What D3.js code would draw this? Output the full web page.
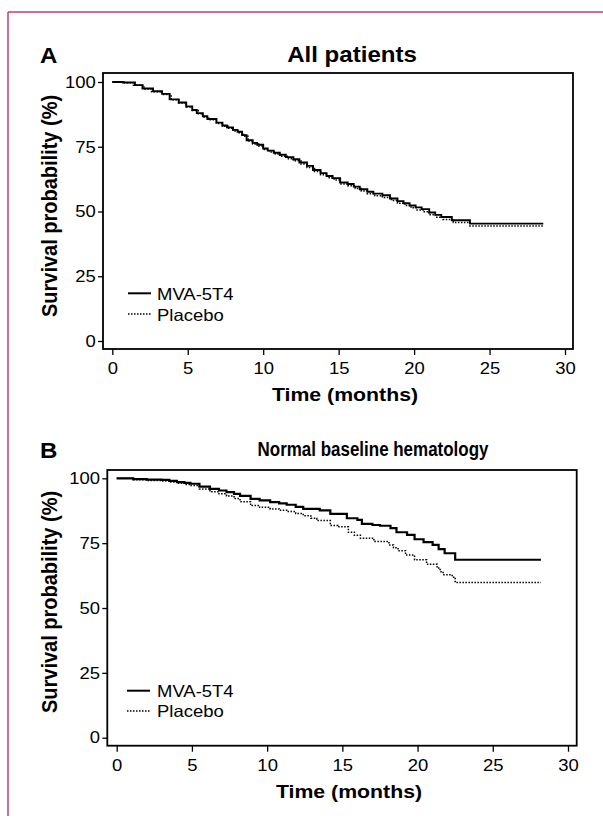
<!DOCTYPE html>
<html><head><meta charset="utf-8">
<script src="https://cdn.jsdelivr.net/npm/d3@7"></script>
<style>html,body{margin:0;padding:0;background:#fff;} svg{display:block;font-family:"Liberation Sans",Arial,Helvetica,sans-serif;}</style>
</head><body><svg id="chart" width="603" height="828"></svg>
<script>
// ---------- data ----------
const tickValuesX = [0, 5, 10, 15, 20, 25, 30];
const tickValuesY = [0, 25, 50, 75, 100];
const panelLetters = ["A", "B"];
const panelTitles = ["All patients", "Normal baseline hematology"];
const seriesNames = ["MVA-5T4", "Placebo"];
const xAxisTitle = "Time (months)";
const yAxisTitle = "Survival probability (%)";

// Panel A – all patients
const allMvaTime = [0, 0.7, 1.5, 2.0, 2.7, 3.3, 3.8, 4.4, 4.9, 5.3, 5.6, 6.0, 6.3, 6.9, 7.3, 7.6, 8.0, 8.3, 8.6, 8.9, 9.3, 9.6, 10.0, 10.3, 10.7, 11.1, 11.5, 12.0, 12.4, 12.9, 13.3, 13.8, 14.2, 14.6, 15.1, 15.6, 16.0, 16.4, 16.9, 17.3, 17.9, 18.4, 18.9, 19.3, 19.7, 20.1, 20.5, 21.0, 21.4, 21.8, 22.5, 23.7, 28.56];
const allMvaSurv = [100, 99.8, 98.8, 97.5, 96.4, 95.4, 93.3, 92.1, 90.6, 89.2, 88.0, 86.8, 85.7, 84.3, 83.2, 82.5, 81.5, 80.8, 79.5, 77.5, 76.5, 75.8, 74.3, 73.5, 72.7, 71.9, 71.0, 70.2, 68.9, 67.6, 66.0, 64.8, 63.7, 62.9, 61.2, 60.6, 59.6, 58.6, 57.6, 56.9, 56.3, 55.0, 54.0, 53.2, 52.3, 51.6, 50.9, 49.6, 48.7, 47.9, 46.6, 45.3, 45.3];
const allPlacTime = [0, 0.8, 1.4, 2.1, 2.6, 3.3, 3.9, 4.4, 4.9, 5.3, 5.7, 6.0, 6.4, 6.9, 7.3, 7.7, 8.0, 8.4, 8.7, 9.0, 9.3, 9.7, 10.0, 10.4, 10.8, 11.1, 11.6, 12.0, 12.5, 12.9, 13.4, 13.8, 14.3, 14.7, 15.1, 15.6, 16.1, 16.5, 16.9, 17.4, 17.9, 18.5, 18.9, 19.4, 19.8, 20.2, 20.6, 21.0, 21.5, 21.9, 22.6, 23.7, 28.56];
const allPlacSurv = [100, 99.7, 98.7, 97.3, 96.2, 95.2, 93.1, 91.9, 90.3, 89.0, 87.7, 86.5, 85.4, 84.0, 82.9, 82.1, 81.1, 80.4, 79.1, 77.2, 76.1, 75.3, 73.9, 73.0, 72.2, 71.3, 70.4, 69.6, 68.3, 67.0, 65.4, 64.2, 63.0, 62.2, 60.6, 59.9, 58.9, 57.9, 56.9, 56.1, 55.4, 54.2, 53.2, 52.3, 51.4, 50.6, 49.9, 48.7, 47.8, 46.9, 45.8, 44.4, 44.4];

// Panel B – normal baseline hematology
const normMvaTime = [0, 1.1, 2.0, 3.0, 3.5, 4.0, 4.5, 4.9, 5.5, 6.2, 6.8, 7.3, 7.8, 8.2, 8.9, 9.5, 10.2, 10.8, 11.3, 11.9, 12.4, 13.5, 14.2, 15.3, 16.0, 16.3, 17.0, 17.5, 18.2, 18.6, 19.3, 19.8, 20.4, 21.0, 21.4, 21.8, 22.5, 28.2];
const normMvaSurv = [100, 99.7, 99.5, 99.4, 99.0, 98.5, 98.2, 97.9, 96.8, 95.9, 95.3, 94.7, 94.0, 93.2, 92.1, 91.5, 90.8, 90.3, 89.8, 89.0, 88.2, 87.6, 86.3, 84.6, 84.0, 82.4, 82.0, 81.7, 80.8, 79.2, 78.2, 76.5, 75.4, 74.3, 72.7, 71.1, 68.6, 68.6];
const normPlacTime = [0, 1.1, 2.0, 3.0, 3.5, 4.0, 4.5, 4.9, 5.5, 6.2, 6.8, 7.3, 7.8, 8.2, 8.9, 9.5, 10.2, 10.8, 11.3, 11.9, 12.4, 12.9, 13.3, 14.2, 14.7, 15.4, 15.8, 16.2, 17.1, 18.1, 18.4, 18.7, 19.2, 19.8, 20.6, 21.3, 21.5, 21.7, 22.3, 22.5, 28.2];
const normPlacSurv = [100, 99.4, 99.2, 99.0, 98.6, 98.1, 97.6, 97.2, 95.9, 94.8, 94.0, 93.2, 92.2, 91.0, 89.5, 88.8, 88.2, 87.7, 87.2, 86.4, 85.6, 84.6, 83.7, 81.8, 81.3, 79.2, 78.0, 76.9, 75.6, 74.3, 73.2, 72.1, 70.4, 68.6, 66.9, 65.4, 64.0, 62.8, 61.9, 59.8, 59.8];

// ---------- drawing ----------
const SX = 1.12;           // horizontal stretch of the original typesetting
const svg = d3.select("#chart");
const border = "#c63c6e";

svg.append("line").attr("x1", 8).attr("y1", 12).attr("x2", 603).attr("y2", 12)
  .attr("stroke", border).attr("stroke-width", 1.5);
svg.append("line").attr("x1", 8).attr("y1", 12).attr("x2", 8).attr("y2", 816)
  .attr("stroke", border).attr("stroke-width", 1.5);

const panels = [
  { frame: [103, 573, 73, 349], xr: [112.3, 565], yr: [341, 82],
    letter: [40, 63], title: [352, 62], titleSize: 21.5, titleSX: 1.12, xt: [345, 401], yt: [57, 206],
    legX: [128, 151], legY: [293.3, 314], legText: [157, 299.5, 320.7],
    mva: [allMvaTime, allMvaSurv], plac: [allPlacTime, allPlacSurv], solidW: 1.9 },
  { frame: [107.3, 576.7, 470, 745.7], xr: [116.7, 568], yr: [737.7, 478.3],
    letter: [40, 458], title: [373, 456], titleSize: 19.5, titleSX: 0.87, xt: [349, 798], yt: [57, 602],
    legX: [127, 150], legY: [690.7, 711], legText: [157, 696.5, 717.3],
    mva: [normMvaTime, normMvaSurv], plac: [normPlacTime, normPlacSurv], solidW: 2.2 }
];

function stretchedText(parent, x, y, str, opts) {
  const sx = opts.sx || SX;
  return parent.append("text")
    .attr("transform", `translate(${x},${y}) scale(${sx},1)` + (opts.rotate ? " rotate(-90)" : ""))
    .attr("text-anchor", opts.anchor || "start")
    .attr("font-size", opts.size)
    .attr("font-weight", opts.bold ? "bold" : "normal")
    .attr("fill", "#000")
    .text(str);
}

panels.forEach((p, i) => {
  const g = svg.append("g");
  const x = d3.scaleLinear().domain([0, 30]).range(p.xr);
  const y = d3.scaleLinear().domain([0, 100]).range(p.yr);

  g.append("rect")
    .attr("x", p.frame[0]).attr("y", p.frame[2])
    .attr("width", p.frame[1] - p.frame[0]).attr("height", p.frame[3] - p.frame[2])
    .attr("fill", "none").attr("stroke", "#000").attr("stroke-width", 1.8);

  const ya = g.append("g").attr("transform", `translate(${p.frame[0]},0)`)
    .call(d3.axisLeft(y).tickValues(tickValuesY).tickSize(5).tickPadding(1.5).tickFormat(d3.format("d")));
  ya.select(".domain").remove();
  ya.selectAll("line").attr("stroke", "#000").attr("stroke-width", 1.3);
  ya.selectAll("text").attr("font-size", 16.5).attr("font-family", null).attr("fill", "#000")
    .attr("transform", `scale(${SX},1)`);

  const xa = g.append("g").attr("transform", `translate(0,${p.frame[3]})`)
    .call(d3.axisBottom(x).tickValues(tickValuesX).tickSize(6).tickPadding(7.3).tickFormat(d3.format("d")));
  xa.select(".domain").remove();
  xa.selectAll("line").attr("stroke", "#000").attr("stroke-width", 1.3);
  xa.selectAll("text").attr("font-size", 16.5).attr("font-family", null).attr("fill", "#000")
    .attr("transform", `scale(${SX},1)`);

  const line = d3.line().x(d => x(d[0])).y(d => y(d[1])).curve(d3.curveStepAfter);
  g.append("path").attr("d", line(d3.zip(p.plac[0], p.plac[1]))).attr("fill", "none")
    .attr("stroke", "#000").attr("stroke-width", 1.5).attr("stroke-dasharray", "1.5,1.5");
  g.append("path").attr("d", line(d3.zip(p.mva[0], p.mva[1]))).attr("fill", "none")
    .attr("stroke", "#000").attr("stroke-width", p.solidW);

  g.append("line").attr("x1", p.legX[0]).attr("x2", p.legX[1]).attr("y1", p.legY[0]).attr("y2", p.legY[0])
    .attr("stroke", "#000").attr("stroke-width", 2);
  g.append("line").attr("x1", p.legX[0]).attr("x2", p.legX[1]).attr("y1", p.legY[1]).attr("y2", p.legY[1])
    .attr("stroke", "#000").attr("stroke-width", 1.5).attr("stroke-dasharray", "1.5,1.5");
  stretchedText(g, p.legText[0], p.legText[1], seriesNames[0], { size: 16.5 });
  stretchedText(g, p.legText[0], p.legText[2], seriesNames[1], { size: 16.5 });

  stretchedText(g, p.letter[0], p.letter[1], panelLetters[i], { size: 21.5, bold: true });
  stretchedText(g, p.title[0], p.title[1], panelTitles[i], { size: p.titleSize, sx: p.titleSX, bold: true, anchor: "middle" });
  stretchedText(g, p.xt[0], p.xt[1], xAxisTitle, { size: 19, bold: true, anchor: "middle" });
  stretchedText(g, p.yt[0], p.yt[1], yAxisTitle, { size: 20, bold: true, anchor: "middle", rotate: true });
});
</script>
</body></html>
